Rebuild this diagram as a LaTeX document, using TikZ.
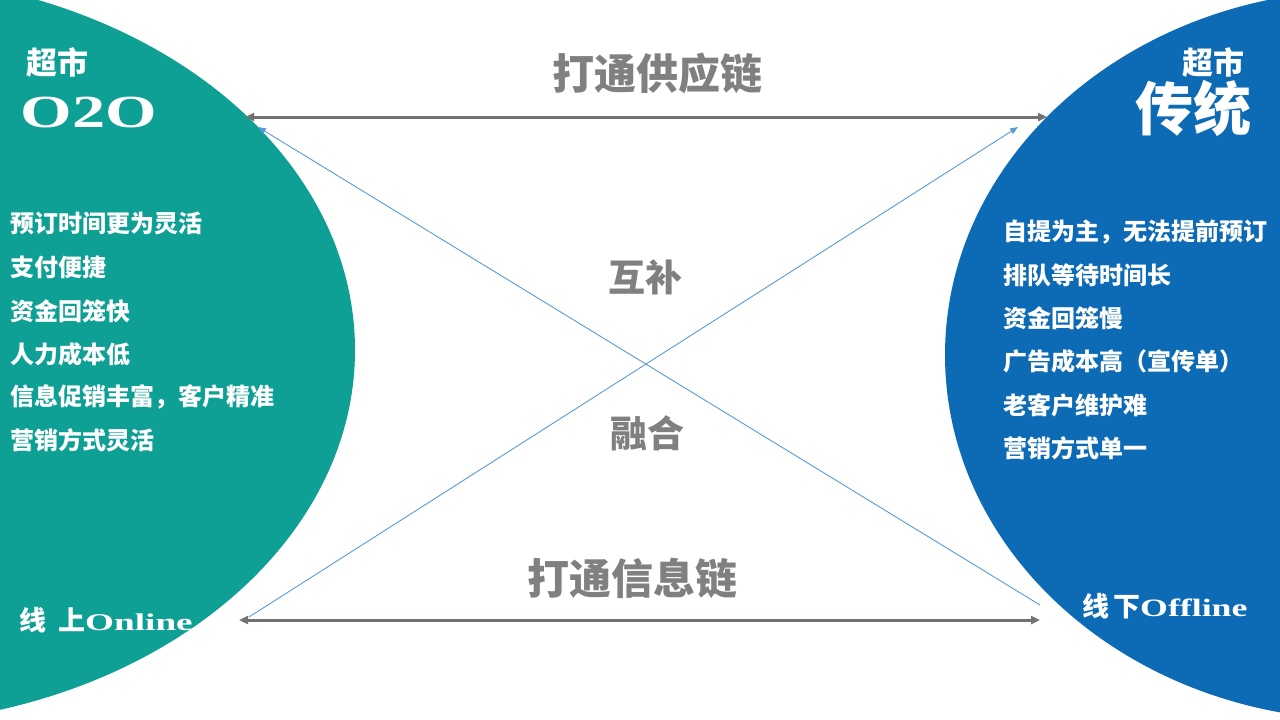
\documentclass[tikz,border=0pt]{standalone}
\usepackage{fontspec}
\usetikzlibrary{arrows.meta}
\newfontfamily\cjk{Noto Sans CJK SC}
\newfontfamily\lserif{Liberation Serif}
\definecolor{tealc}{RGB}{14,160,148}
\definecolor{bluec}{RGB}{13,107,182}
\definecolor{grayc}{RGB}{118,113,113}
\definecolor{titlegray}{RGB}{128,128,128}
\definecolor{thinblue}{RGB}{91,155,213}
\tikzset{
  listtxt/.style={anchor=west, text=white, font=\cjk\bfseries\fontsize{24}{28}\selectfont, inner sep=0pt},
  headtxt/.style={text=white, inner sep=0pt},
  midtxt/.style={text=titlegray, inner sep=0pt},
  grayarrow/.style={draw=grayc, line width=3pt, {Triangle[length=9pt,width=8pt]}-{Triangle[length=9pt,width=8pt]}},
  thinarrow/.style={draw=thinblue, line width=0.9pt, -{Triangle[length=8pt,width=6pt]}}
}
\begin{document}
\begin{tikzpicture}[x=1pt,y=-1pt]
\useasboundingbox (0,0) rectangle (1280,720);
\clip (0,0) rectangle (1280,720);
\fill[white] (0,0) rectangle (1280,720);
% shapes
\fill[tealc] (-140,350) ellipse [x radius=495pt, y radius=375pt];
\fill[bluec] (1366,355) ellipse [x radius=421pt, y radius=365pt];
% headings
\node[headtxt, font=\cjk\bfseries\fontsize{31}{34}\selectfont] (lsup) at (58,62) {超市};
\node[headtxt, font=\lserif\bfseries\fontsize{46}{50}\selectfont] (o2o) at (89,112) {\scalebox{1.44}[1]{O2O}};
\node[headtxt, font=\cjk\bfseries\fontsize{31}{34}\selectfont] (rsup) at (1213,62) {超市};
\node[headtxt, font=\cjk\bfseries\fontsize{58}{62}\selectfont] (trad) at (1193,108) {传统};
\node[headtxt, anchor=west, font=\lserif\bfseries\fontsize{24}{28}\selectfont] (online) at (19,620) {{\cjk\fontsize{27}{30}\selectfont 线\hspace{12pt}上}\scalebox{1.55}[1]{Online}};
\node[headtxt, anchor=west, font=\lserif\bfseries\fontsize{25}{28}\selectfont] (offline) at (1082,606) {{\cjk\fontsize{27}{30}\selectfont 线\hspace{4pt}下}\scalebox{1.43}[1]{Offline}};
% left list
\node[listtxt] (l1) at (10,223) {预订时间更为灵活};
\node[listtxt] (l2) at (10,267) {支付便捷};
\node[listtxt] (l3) at (10,311) {资金回笼快};
\node[listtxt] (l4) at (10,354) {人力成本低};
\node[listtxt] (l5) at (10,397) {信息促销丰富，客户精准};
\node[listtxt] (l6) at (10,440) {营销方式灵活};
% right list
\node[listtxt] (r1) at (1003,232) {自提为主，无法提前预订};
\node[listtxt] (r2) at (1003,275) {排队等待时间长};
\node[listtxt] (r3) at (1003,318) {资金回笼慢};
\node[listtxt] (r4) at (1003,361) {广告成本高（宣传单）};
\node[listtxt] (r5) at (1003,405) {老客户维护难};
\node[listtxt] (r6) at (1003,448) {营销方式单一};
% middle titles
\node[midtxt, font=\cjk\bfseries\fontsize{42}{46}\selectfont] (top) at (657,73) {打通供应链};
\node[midtxt, font=\cjk\bfseries\fontsize{42}{46}\selectfont] (bot) at (632,578) {打通信息链};
\node[midtxt, font=\cjk\bfseries\fontsize{37}{40}\selectfont] (hb) at (645,277) {互补};
\node[midtxt, font=\cjk\bfseries\fontsize{37}{40}\selectfont] (rh) at (647,433) {融合};
% connector ends
\coordinate (tl) at (245,117);
\coordinate (tr) at (1047,117);
\coordinate (bl) at (239,620);
\coordinate (br) at (1040,620);
\coordinate (d1s) at (1040,605);
\coordinate (d1e) at (258,127);
\coordinate (d2s) at (249,617);
\coordinate (d2e) at (1018,127);
\draw[grayarrow] (tl) -- (tr);
\draw[grayarrow] (bl) -- (br);
\draw[thinarrow] (d1s) -- (d1e);
\draw[thinarrow] (d2s) -- (d2e);
\end{tikzpicture}
\end{document}
